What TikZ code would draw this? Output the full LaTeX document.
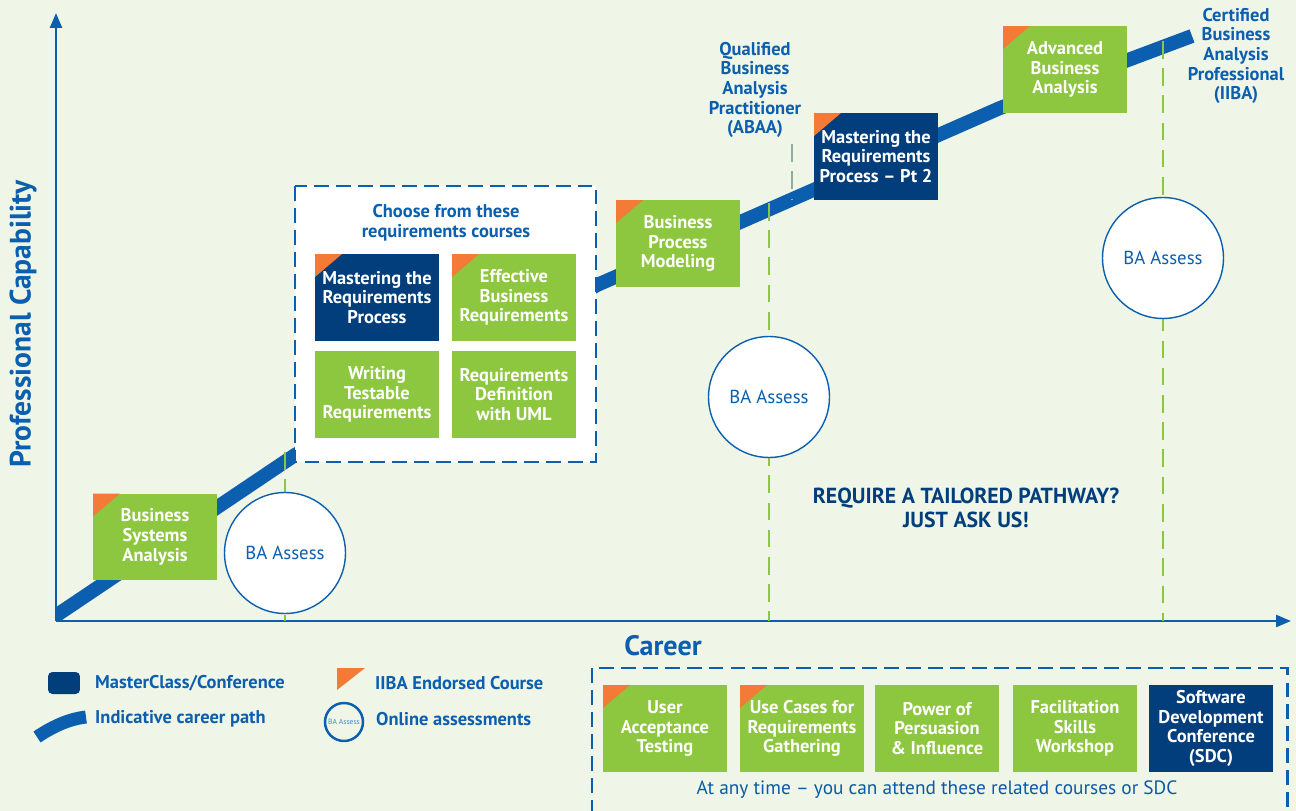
\documentclass[tikz,border=0pt]{standalone}
\usepackage{fontspec}
\setmainfont{PT Sans}
\usetikzlibrary{arrows.meta}
\definecolor{paper}{HTML}{EFF6E7}
\definecolor{iibablue}{HTML}{0B5FAE}
\definecolor{navy}{HTML}{023D7C}
\definecolor{leaf}{HTML}{8DC63F}
\definecolor{tang}{HTML}{F37A37}
\definecolor{sage}{HTML}{8FAE9E}
\begin{document}
\begin{tikzpicture}
[x=0.02cm,y=-0.02cm,
  coursebox/.style={minimum width=2.48cm,minimum height=1.74cm,inner sep=1pt,
    align=center,text=white,font=\fontsize{10.5}{11.2}\selectfont\bfseries},
  greenbox/.style={coursebox,fill=leaf},
  navybox/.style={coursebox,fill=navy},
  iiba/.style={path picture={\fill[tang] (path picture bounding box.north west)
    -- ++(0.54cm,0) -- ++(-0.54cm,-0.46cm) -- cycle;}},
  assess/.style={circle,draw=iibablue,line width=0.8pt,fill=white,minimum size=2.42cm,
    inner sep=0pt,text=iibablue,font=\fontsize{10.7}{12}\selectfont},
  guide/.style={leaf,line width=1.3pt,dash pattern=on 10pt off 5.5pt},
  choicebox/.style={draw=iibablue,line width=1.7pt,dash pattern=on 8.5pt off 4pt},
  axisline/.style={iibablue,line width=1.4pt,-{Triangle[length=0.3cm,width=0.24cm]}},
  pathline/.style={iibablue,line width=0.28cm,line join=round},
  bluetext/.style={text=iibablue,align=center,font=\fontsize{10.5}{11.2}\selectfont\bfseries},
  legendtext/.style={text=iibablue,anchor=west,font=\fontsize{10.5}{12}\selectfont\bfseries}]
\useasboundingbox (0,0) rectangle (1296,811);
\fill[paper] (0,0) rectangle (1296,811);

%% axes
\coordinate (o) at (56,621);
\coordinate (ytip) at (56,13);
\coordinate (xtip) at (1291,621);
\draw[axisline] (o) -- (ytip);
\draw[axisline] (o) -- (xtip);
\node[text=iibablue,font=\fontsize{16.8}{17}\selectfont\bfseries,rotate=90] (ylabel) at (23,324) {Professional Capability};
\node[text=iibablue,font=\fontsize{16}{17}\selectfont\bfseries] (xlabel) at (663,646) {Career};

%% career path
\coordinate (p0) at (45,623);
\coordinate (p1) at (295,455);
\coordinate (p2) at (597,285);
\coordinate (p3) at (1000,108);
\coordinate (p4) at (1192,36);
\begin{scope}
\clip (57,0) rectangle (1296,620);
\draw[pathline] (p0) -- (p1) -- (p2) -- (p3) -- (p4);
\end{scope}

%% assessment guides
\foreach \gx/\gy in {285/452, 769/203, 1163/41} {
  \coordinate (g\gx) at (\gx,\gy);
  \draw[guide] (g\gx) -- (g\gx |- o);
}

%% choose from these
\draw[choicebox,fill=white] (295,186) rectangle (596,462);
\node[bluetext] (choose) at (446,223) {Choose from these\\requirements courses};
\node[navybox,iiba] (mrp) at (377,297.5) {Mastering the\\Requirements\\Process};
\node[greenbox,iiba] (ebr) at (514,297.5) {Effective\\Business\\Requirements};
\node[greenbox] (wtr) at (377,394.5) {Writing\\Testable\\Requirements};
\node[greenbox] (rdu) at (514,394.5) {Requirements\\Definition\\with UML};

%% courses on the path
\node[greenbox,iiba] (bsa) at (155,537) {Business\\Systems\\Analysis};
\node[greenbox,iiba] (bpm) at (678,243.5) {Business\\Process\\Modeling};
\node[navybox,iiba] (mrpb) at (876,156.5) {Mastering the\\Requirements\\Process -- Pt 2};
\node[greenbox,iiba] (aba) at (1065,69.5) {Advanced\\Business\\Analysis};

%% online assessments
\foreach \nodename/\x/\y in {assessa/285/553, assessb/769/397, assessc/1163/258} {
  \node[assess] (\nodename) at (\x,\y) {BA Assess};
}

%% qualifications
\node[bluetext] (abaa) at (755,90) {Qualified\\Business\\Analysis\\Practitioner\\(ABAA)};
\node[bluetext] (cbap) at (1236,56) {Certified\\Business\\Analysis\\Professional\\(IIBA)};
\coordinate (abaapath) at (792,199);
\draw[sage,line width=1.3pt,dash pattern=on 10pt off 5.5pt] (abaa.south -| abaapath) -- (abaapath);
\node[text=navy,align=center,font=\fontsize{12.4}{13.6}\selectfont\bfseries] (ask) at (966,508) {REQUIRE A TAILORED PATHWAY?\\JUST ASK US!};

%% legend
\node[fill=navy,rounded corners=2.5pt,minimum width=0.64cm,minimum height=0.44cm,inner sep=0pt] (lgnavy) at (64,683) {};
\node[legendtext] (lgnavytxt) at (89,683) {MasterClass/Conference};
\draw[iibablue,line width=0.26cm] (37,737) .. controls (55,725) and (70,719) .. (86,717);
\node[legendtext] (lgpathtxt) at (89,719) {Indicative career path};
\fill[tang] (337,668) -- (365,668) -- (337,690) -- cycle;
\node[legendtext] (lgiibatxt) at (369,683) {IIBA Endorsed Course};
\node[circle,draw=iibablue,line width=1.4pt,minimum size=0.76cm,inner sep=0pt,text=iibablue!75,
  font=\fontsize{4.3}{5}\selectfont] (lgassess) at (344,722) {BA Assess};
\node[legendtext] (lgassesstxt) at (370,719) {Online assessments};

%% related courses
\draw[choicebox] (592,815) -- (592,668) -- (1287,668) -- (1287,815);
\node[greenbox,iiba] (uat) at (665,728.5) {User\\Acceptance\\Testing};
\node[greenbox,iiba] (ucr) at (802,728.5) {Use Cases for\\Requirements\\Gathering};
\node[greenbox] (ppi) at (937,728.5) {Power of\\Persuasion\\\& Influence};
\node[greenbox] (fsw) at (1075,728.5) {Facilitation\\Skills\\Workshop};
\node[navybox] (sdc) at (1211,728.5) {Software\\Development\\Conference\\(SDC)};
\node[text=iibablue!85!navy,font=\fontsize{11}{12}\selectfont] (anytime) at (937,790) {At any time -- you can attend these related courses or SDC};
\end{tikzpicture}
\end{document}
